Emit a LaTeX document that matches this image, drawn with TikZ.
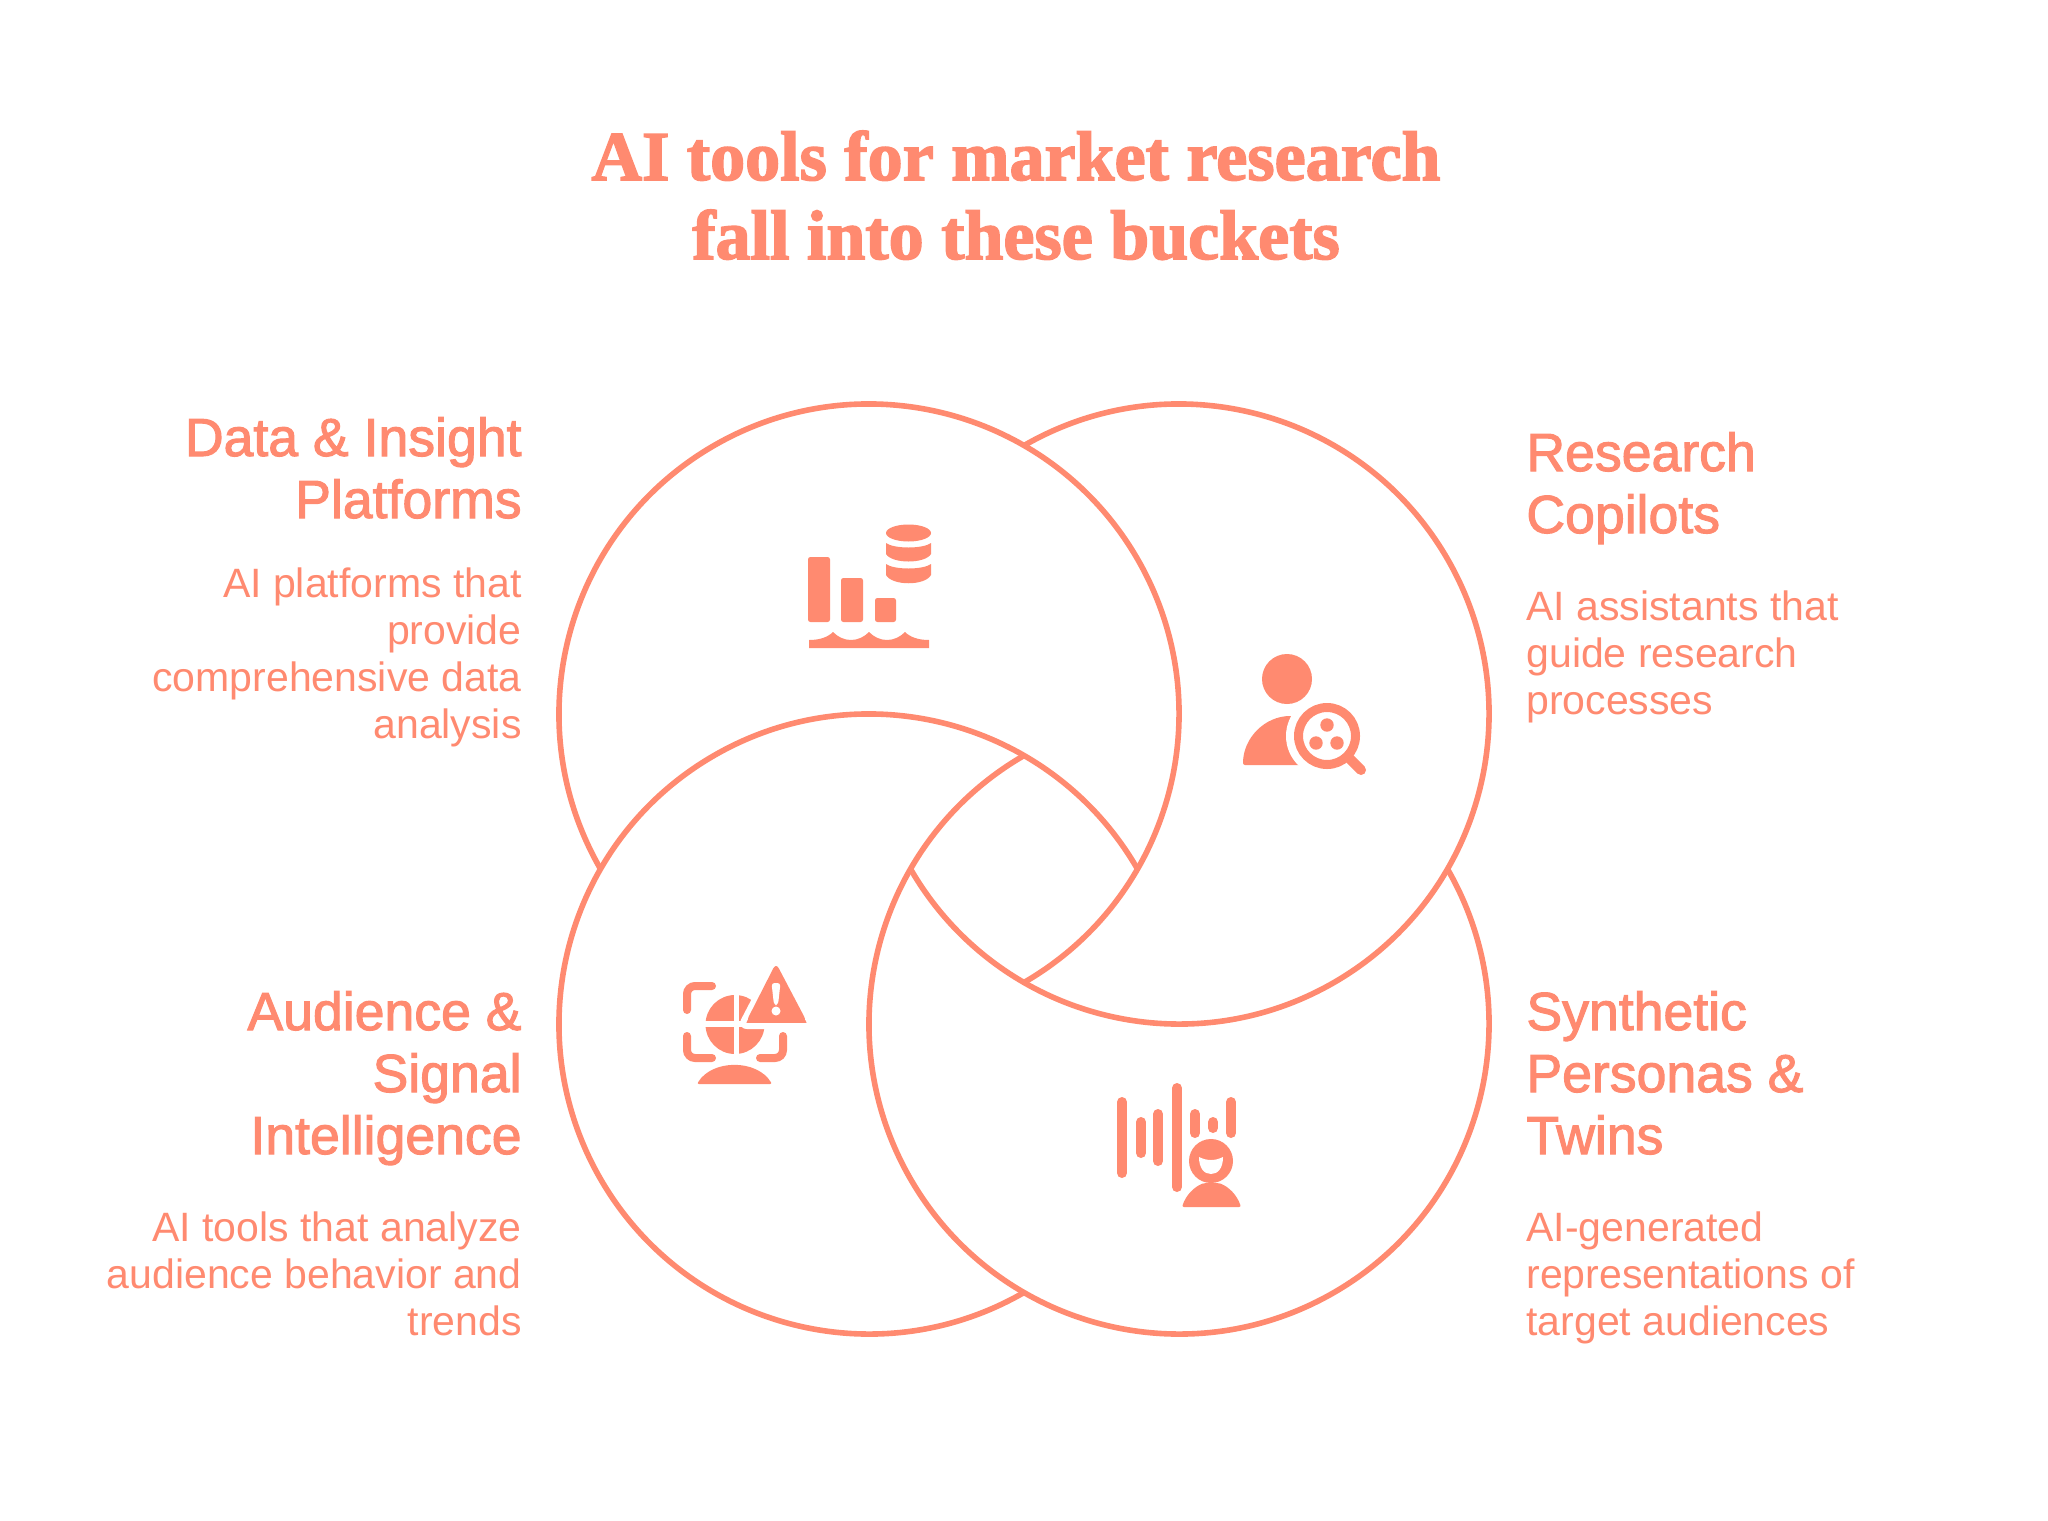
\documentclass[tikz,border=0pt]{standalone}
\usepackage{fontspec}
\setmainfont{Liberation Sans}
\newfontfamily\titlefont{Liberation Serif}[FakeBold=2.2]
\newfontfamily\headfont{Liberation Sans}[FakeBold=2]
\definecolor{coral}{HTML}{FF8A70}
\tikzset{x=0.5pt,y=-0.5pt,
 ring/.style={draw=coral,line width=2.8pt},
 ico/.style={fill=coral,draw=none},
 wico/.style={fill=white,draw=none},
 bar/.style={draw=coral,line width=5pt,line cap=round},
 brk/.style={draw=coral,line width=4pt,line cap=round,rounded corners=4pt},
 ttl/.style={text=coral,inner sep=0pt,anchor=base,font=\titlefont\bfseries\fontsize{35}{39.5}\selectfont,align=center},
 headl/.style={text=coral,font=\headfont\fontsize{26.8}{31}\selectfont,align=right,anchor=base east,inner sep=0pt},
 headr/.style={text=coral,font=\headfont\fontsize{26.8}{31}\selectfont,align=left,anchor=base west,inner sep=0pt},
 bodyl/.style={text=coral,font=\fontsize{20.5}{23.5}\selectfont,align=right,anchor=base east,inner sep=0pt},
 bodyr/.style={text=coral,font=\fontsize{20.5}{23.5}\selectfont,align=left,anchor=base west,inner sep=0pt}}
\begin{document}
\begin{tikzpicture}
\useasboundingbox (0,0) rectangle (2048,1520);
\fill[white] (0,0) rectangle (2048,1520);
% rings
\coordinate (ctl) at (869,714);\coordinate (ctr) at (1179,714);
\coordinate (cbl) at (869,1024);\coordinate (cbr) at (1179,1024);
\draw[ring] (ctl) ++(150:310) arc[start angle=150,end angle=420,radius=310];
\draw[ring] (ctr) ++(240:310) arc[start angle=240,end angle=510,radius=310];
\draw[ring] (cbr) ++(330:310) arc[start angle=330,end angle=600,radius=310];
\draw[ring] (cbl) ++(60:310) arc[start angle=60,end angle=330,radius=310];
% title
\node[ttl] (title) at (1016,259) {AI tools for market research\\fall into these buckets};
% left
\node[headl] (h1) at (522,518) {Data \& Insight\\Platforms};
\node[bodyl] (b1) at (522,738) {AI platforms that\\provide\\comprehensive data\\analysis};
\node[headl] (h3) at (522,1154) {Audience \&\\Signal\\Intelligence};
\node[bodyl] (b3) at (522,1335) {AI tools that analyze\\audience behavior and\\trends};
% right
\node[headr] (h2) at (1526,533) {Research\\Copilots};
\node[bodyr] (b2) at (1526,714) {AI assistants that\\guide research\\processes};
\node[headr] (h4) at (1526,1154) {Synthetic\\Personas \&\\Twins};
\node[bodyr] (b4) at (1526,1335) {AI-generated\\representations of\\target audiences};
% icon 1: bars and database
\fill[ico,rounded corners=1.2pt] (808,557) rectangle (830,622);
\fill[ico,rounded corners=1.2pt] (841,578) rectangle (863,622);
\fill[ico,rounded corners=1.2pt] (875,598) rectangle (896,622);
\fill[ico] (809,648) -- (809,640) .. controls (820,640) and (828,637) .. (833,632)
 .. controls (838,637) and (844,640) .. (851,640) .. controls (858,640) and (864,637) .. (869,632)
 .. controls (874,637) and (880,640) .. (887,640) .. controls (894,640) and (900,637) .. (905,632)
 .. controls (910,637) and (918,640) .. (929,640) -- (929,648) -- cycle;
\fill[ico] (908.5,533) ellipse[x radius=22.5,y radius=8.5];
\fill[ico] (886,543) .. controls (894,549) and (923,549) .. (931,543) -- (931,554)
 .. controls (925,564) and (892,564) .. (886,554) -- cycle;
\fill[ico] (886,564) .. controls (894,570) and (923,570) .. (931,564) -- (931,575)
 .. controls (925,586) and (892,586) .. (886,575) -- cycle;
% icon 2: person and lens
\fill[ico] (1287,679) circle[radius=25];
\fill[ico,rounded corners=1pt] (1243,765) arc[start angle=180,end angle=270,radius=49] -- (1312,716) -- (1312,765) -- cycle;
\fill[wico] (1327,736) circle[radius=41];
\draw[bar,line width=5pt] (1350,759) -- (1361,770);
\draw[draw=coral,line width=4.5pt] (1327,736) circle[radius=28.5];
\fill[ico] (1327,725) circle[radius=6.7];
\fill[ico] (1316,743) circle[radius=6.7];
\fill[ico] (1337,743) circle[radius=6.7];
% icon 3: pie, brackets, alert
\fill[ico] (735,1024.5) circle[radius=29.5];
\fill[wico] (734,990) rectangle (739,1060);
\fill[wico] (700,1021) rectangle (770,1027);
\draw[draw=white,fill=coral,line width=3pt,rounded corners=3pt,line join=round] (776,959) -- (741,1026) -- (812,1026) -- cycle;
\fill[ico,rounded corners=3pt] (776,963) -- (746,1022) -- (807,1022) -- cycle;
\fill[wico,rounded corners=1.5pt] (771.5,983) -- (780.5,983) -- (778,1005) -- (774,1005) -- cycle;
\fill[wico] (776,1011) circle[radius=4.5];
\draw[brk] (712,986) -- (687,986) -- (687,1010);
\draw[brk] (687,1036) -- (687,1058) -- (712,1058);
\draw[brk] (783,1036) -- (783,1058) -- (760,1058);
\fill[ico,rounded corners=1pt] (697,1084) .. controls (712,1059) and (757,1059) .. (772,1084) -- cycle;
% icon 4: sound bars and person
\draw[bar] (1122,1102) -- (1122,1173);
\draw[bar] (1141,1122) -- (1141,1153);
\draw[bar] (1158,1114) -- (1158,1161);
\draw[bar] (1177,1088) -- (1177,1187);
\draw[bar] (1195,1114) -- (1195,1133);
\draw[bar] (1213,1122) -- (1213,1128);
\draw[bar] (1231,1102) -- (1231,1133);
\fill[ico] (1211,1161) circle[radius=22];
\fill[ico,rounded corners=1pt] (1182,1207) .. controls (1186,1195) and (1194,1187) .. (1204,1183) -- (1219,1183) .. controls (1229,1187) and (1237,1195) .. (1241,1207) -- cycle;
\fill[wico] (1199,1157) .. controls (1207,1161) and (1215,1161) .. (1223,1157) .. controls (1223,1168) and (1218,1174) .. (1211,1174) .. controls (1204,1174) and (1199,1168) .. (1199,1157) -- cycle;
\end{tikzpicture}
\end{document}
